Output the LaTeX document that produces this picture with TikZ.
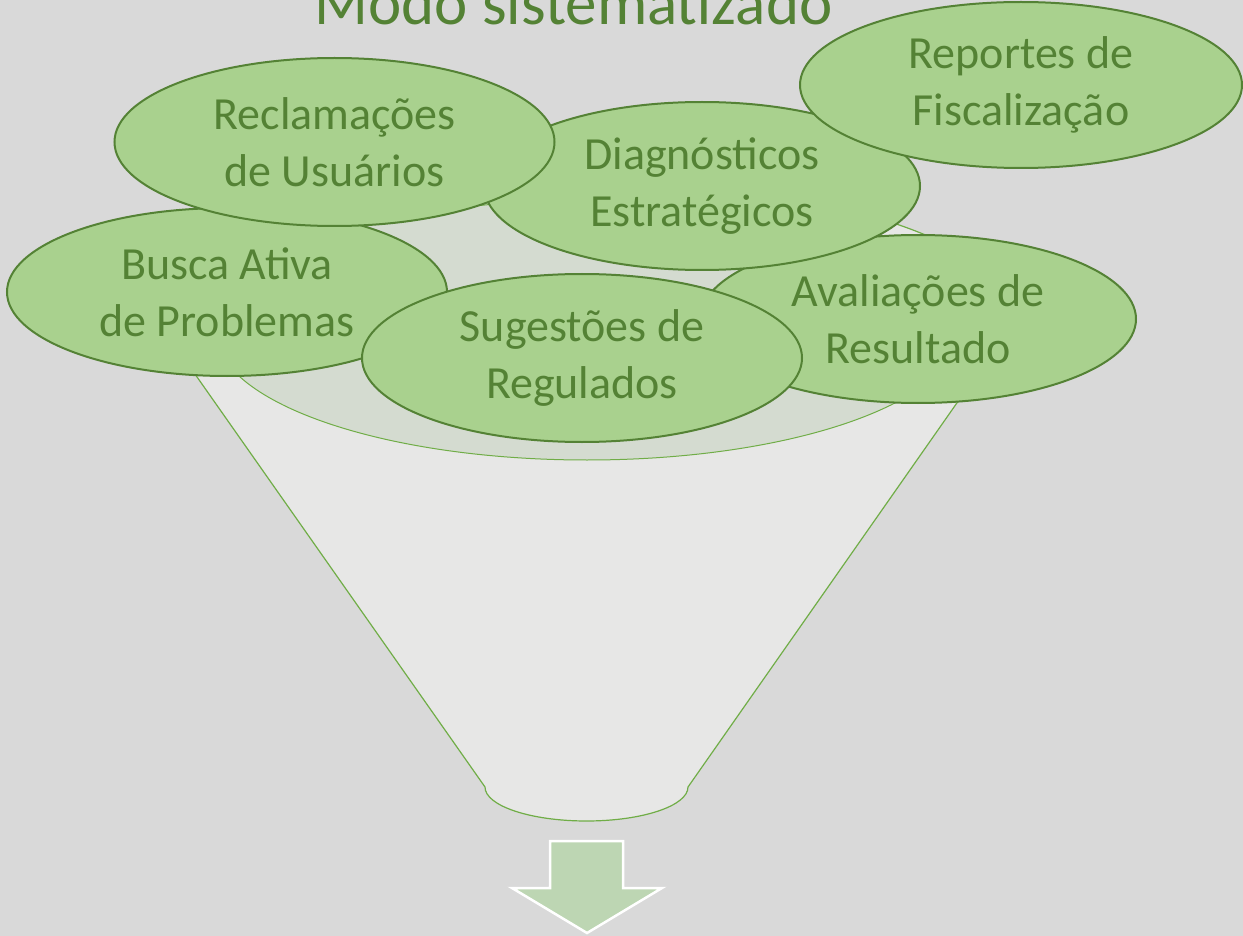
\documentclass[tikz,border=0pt]{standalone}
\usepackage{fontspec}
\setmainfont{Carlito}
\usetikzlibrary{shapes.geometric}
\definecolor{fundo}{HTML}{D9D9D9}
\definecolor{verdeclaro}{HTML}{A9D18E}
\definecolor{verdeescuro}{HTML}{548235}
\definecolor{verdelinha}{HTML}{70AD47}
\definecolor{funil}{HTML}{E7E7E6}
\definecolor{boca}{HTML}{D4DBD0}
\definecolor{seta}{HTML}{BDD6B3}

\begin{document}
\begin{tikzpicture}[
  x=1pt, y=1pt,
  bubble/.style={
    ellipse,
    draw=verdeescuro,
    fill=verdeclaro,
    line width=2pt,
    inner sep=0pt,
    minimum width=440pt,
    minimum height=168pt,
    align=center,
    text=verdeescuro,
    font=\fontsize{46}{57}\selectfont
  },
  funnel body/.style={
    fill=funil,
    draw=verdelinha,
    line width=1.2pt
  },
  funnel mouth/.style={
    fill=boca,
    draw=verdelinha,
    line width=1pt
  }
]
\useasboundingbox (0,0) rectangle (1243,-936);
\clip (0,0) rectangle (1243,-936);
\fill[fundo] (0,0) rectangle (1243,-936);
% title, cut by the top edge
\node[anchor=base, text=verdeescuro, font=\fontsize{63}{70}\selectfont]
  (titulo) at (573.5,-25) {Modo sistematizado};
% funnel
\path[funnel body] (157,-320) arc[start angle=180, end angle=0, x radius=429, y radius=139]
  -- (688,-787) arc[start angle=0, end angle=-180, x radius=101.5, y radius=34] -- cycle;
\path[funnel mouth] (587,-330) ellipse[x radius=372, y radius=130];
% bubbles, back to front
\node[bubble] (busca) at (227,-292) {Busca Ativa\\de Problemas};
\node[bubble, minimum width=436pt] (avaliacoes) at (918,-319) {Avaliações de\\Resultado};
\node[bubble, minimum width=436pt] (diagnosticos) at (702,-186) {Diagnósticos\\Estratégicos};
\node[bubble] (reclamacoes) at (334.5,-142) {Reclamações\\de Usuários};
\node[bubble, minimum width=442pt, minimum height=166pt] (reportes) at (1021,-85) {Reportes de\\Fiscalização};
\node[bubble] (sugestoes) at (582,-358) {Sugestões de\\Regulados};
% arrow out of the funnel
\filldraw[fill=seta, draw=white, line width=2.5pt, line join=miter]
  (550,-841) -- (623,-841) -- (623,-888) -- (662,-888) -- (587,-933)
  -- (512,-888) -- (550,-888) -- cycle;
\end{tikzpicture}
\end{document}
